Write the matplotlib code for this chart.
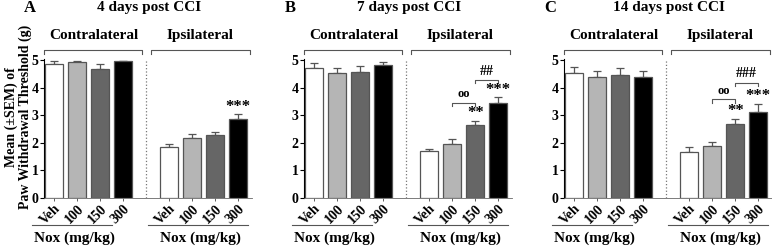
"""
Paw withdrawal threshold after Nox treatment - 3 panels (4, 7, 14 days post CCI)
"""

import matplotlib.pyplot as plt

plt.rcParams['font.family'] = ['Liberation Serif', 'DejaVu Serif']
plt.rcParams['font.weight'] = 'bold'

DOSES = ['Veh', '100', '150', '300']
PANELS = ['A', 'B', 'C']
TITLES = ['4 days post CCI', '7 days post CCI', '14 days post CCI']

# mean and SEM, contralateral then ipsilateral
CONTRA_A = [4.87, 4.92, 4.67, 4.95]
CONTRA_A_ERR = [0.09, 0.04, 0.17, 0.03]
IPSI_A = [1.85, 2.16, 2.28, 2.86]
IPSI_A_ERR = [0.09, 0.17, 0.12, 0.17]

CONTRA_B = [4.71, 4.54, 4.58, 4.83]
CONTRA_B_ERR = [0.17, 0.16, 0.21, 0.11]
IPSI_B = [1.70, 1.95, 2.63, 3.43]
IPSI_B_ERR = [0.08, 0.19, 0.17, 0.22]

CONTRA_C = [4.54, 4.40, 4.45, 4.40]
CONTRA_C_ERR = [0.22, 0.21, 0.26, 0.19]
IPSI_C = [1.68, 1.87, 2.68, 3.12]
IPSI_C_ERR = [0.15, 0.16, 0.18, 0.29]

# stars over ipsilateral bars (vs vehicle)
STARS_A = ['', '', '', '***']
STARS_B = ['', '', '**', '***']
STARS_C = ['', '', '**', '***']
# comparison brackets: (left dose idx, right dose idx, bracket height, label)
BRACKETS_A = []
BRACKETS_B = [(1, 2, 3.45, 'oo'), (2, 3, 4.27, '##')]
BRACKETS_C = [(1, 2, 3.57, 'oo'), (2, 3, 4.18, '###')]

COLORS = ['white', '#b5b5b5', '#666666', 'black']
EDGE = '#555555'

data = [
    (CONTRA_A, CONTRA_A_ERR, IPSI_A, IPSI_A_ERR, STARS_A, BRACKETS_A),
    (CONTRA_B, CONTRA_B_ERR, IPSI_B, IPSI_B_ERR, STARS_B, BRACKETS_B),
    (CONTRA_C, CONTRA_C_ERR, IPSI_C, IPSI_C_ERR, STARS_C, BRACKETS_C),
]

W, H = 772, 247
fig = plt.figure(figsize=(W / 100, H / 100), dpi=100)

x_contra = [0, 1, 2, 3]
x_ipsi = [5, 6, 7, 8]
lefts = [44, 304, 564]

for p in range(3):
    contra, contra_err, ipsi, ipsi_err, stars, brackets = data[p]
    ax = fig.add_axes([lefts[p] / W, 49 / H, 208 / W, 139.4 / H])

    for xs, vals, errs in [(x_contra, contra, contra_err), (x_ipsi, ipsi, ipsi_err)]:
        ax.bar(xs, vals, width=0.78, color=COLORS, edgecolor=EDGE, linewidth=0.9, zorder=2)
        ax.errorbar(xs, vals, yerr=[[0] * 4, errs], fmt='none', ecolor=EDGE,
                    elinewidth=0.9, capsize=3, capthick=0.9, zorder=1)

    ax.set_xlim(-0.45, 8.6)
    ax.set_ylim(0, 5.05)
    ax.set_yticks([0, 1, 2, 3, 4, 5])
    ax.set_yticklabels(['0', '1', '2', '3', '4', '5'], fontsize=10, fontweight='bold')
    ax.set_xticks(x_contra + x_ipsi)
    ax.set_xticklabels(DOSES + DOSES, rotation=45, ha='right', rotation_mode='anchor',
                       fontsize=10, fontweight='bold')
    ax.tick_params(axis='x', length=2, width=0.6, pad=1, colors='#444444', labelcolor='black')
    ax.tick_params(axis='y', length=3, width=0.8, pad=1)
    for s in ['top', 'right']:
        ax.spines[s].set_visible(False)
    ax.spines['left'].set_linewidth(0.8)
    ax.spines['bottom'].set_linewidth(0.6)
    ax.spines['bottom'].set_color('#666666')

    # dotted separator
    ax.axvline(4.0, color='#777777', linestyle=':', linewidth=0.9)

    # group brackets above the plot
    for x0, x1, label in [(-0.43, 3.83, 'Contralateral'), (4.2, 8.5, 'Ipsilateral')]:
        ax.plot([x0, x0, x1, x1], [5.2, 5.36, 5.36, 5.2], color='#555555',
                linewidth=0.8, clip_on=False)
        ax.text((x0 + x1) / 2, 5.88, label, ha='center', va='center',
                fontsize=11, fontweight='bold')

    # dose group underline and axis title
    for x0, x1 in [(-0.96, 2.52), (4.09, 8.43)]:
        ax.plot([x0, x1], [-0.98, -0.98], color='#555555', linewidth=0.8, clip_on=False)
        ax.text((x0 + x1) / 2 + 0.1, -1.47, 'Nox (mg/kg)', ha='center', va='center',
                fontsize=11, fontweight='bold')

    # stars
    for i, s in enumerate(stars):
        if s:
            ax.text(x_ipsi[i], ipsi[i] + ipsi_err[i] + 0.28, s, ha='center',
                    va='center', fontsize=12, fontweight='bold')

    # comparison brackets
    for i0, i1, yb, label in brackets:
        xa, xb = x_ipsi[i0], x_ipsi[i1]
        ax.plot([xa, xa, xb, xb], [yb - 0.12, yb, yb, yb - 0.12], color='#555555',
                linewidth=0.8)
        ax.text((xa + xb) / 2, yb + 0.32, label, ha='center', va='center',
                fontsize=9 if label == 'oo' else 10, fontweight='bold')

    ax.text(4.1, 6.9, TITLES[p], ha='center', va='center', fontsize=11,
            fontweight='bold', clip_on=False)
    ax.text(-1.05, 6.9, PANELS[p], ha='center', va='center', fontsize=12,
            fontweight='bold', clip_on=False)

fig.text(11 / W, 1 - 117 / H, 'Mean (\u00b1SEM) of', rotation=90, ha='center', va='center',
         fontsize=10, fontweight='bold')
fig.text(25 / W, 1 - 117 / H, 'Paw Withdrawal Threshold (g)', rotation=90, ha='center',
         va='center', fontsize=10, fontweight='bold')

fig.savefig('out.png', dpi=100)
